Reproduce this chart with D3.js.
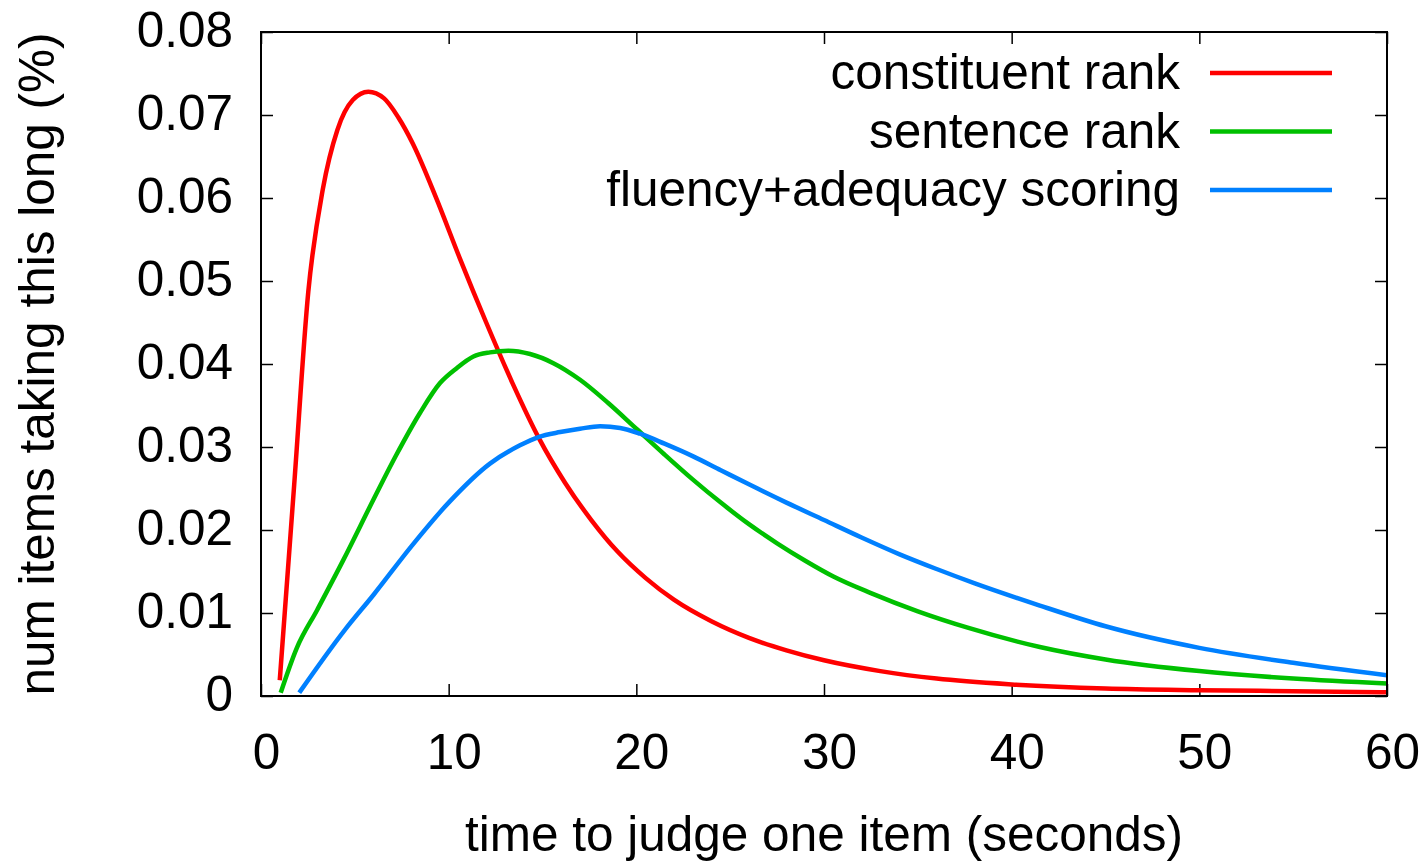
<!DOCTYPE html>
<html>
<head>
<meta charset="utf-8">
<script src="https://cdn.jsdelivr.net/npm/d3@7"></script>
<style>
  body { margin: 0; background: #fff; }
  svg text { font-family: "Liberation Sans", Arial, Helvetica, sans-serif; fill: #000; }
</style>
</head>
<body>
<svg id="chart" width="1424" height="864"></svg>
<script>
// ---- data ----
const seriesNames = ["constituent rank", "sentence rank", "fluency+adequacy scoring"];
const seriesColors = ["#ff0000", "#00c000", "#0080ff"];

const constituentX = [1.0, 1.77, 2.52, 3.29, 4.07, 4.89, 5.72, 6.56, 7.32, 8.08, 9.3, 10.6, 12.0, 13.4, 14.8, 16.2, 17.6, 19.0, 20.5, 22.0, 24.0, 26.0, 28.0, 30.0, 33.0, 36.0, 40.0, 45.0, 50.0, 55.0, 60.0];
const constituentY = [0.0019, 0.0255, 0.0487, 0.0610, 0.0682, 0.0718, 0.0728, 0.0720, 0.0697, 0.0666, 0.0602, 0.0527, 0.0450, 0.0377, 0.0311, 0.0257, 0.0212, 0.0174, 0.0142, 0.0116, 0.0090, 0.0070, 0.0055, 0.0043, 0.0030, 0.0021, 0.0014, 0.0009, 0.0007, 0.00058, 0.00045];

const sentenceX = [1.05, 1.90, 3.0, 4.39, 6.0, 7.2, 8.47, 9.54, 10.43, 11.32, 12.2, 13.18, 14.34, 15.58, 17.0, 18.5, 20.0, 21.5, 23.0, 24.5, 26.0, 27.5, 29.0, 30.5, 32.5, 35.0, 37.7, 41.5, 45.0, 50.0, 55.0, 60.0];
const sentenceY = [0.0004, 0.00575, 0.0104, 0.0164, 0.0237, 0.0290, 0.0341, 0.0377, 0.0395, 0.0409, 0.0414, 0.0416, 0.0412, 0.0401, 0.0381, 0.0353, 0.0322, 0.0291, 0.0261, 0.0233, 0.0207, 0.0184, 0.0163, 0.0144, 0.0124, 0.0102, 0.0082, 0.0059, 0.0044, 0.0030, 0.0021, 0.0015];

const fluencyX = [2.04, 4.48, 6.0, 8.0, 10.0, 12.2, 13.8, 14.78, 15.94, 17.0, 18.07, 19.14, 20.2, 21.5, 23.0, 24.5, 26.0, 28.0, 30.0, 32.0, 34.0, 36.0, 38.0, 41.5, 45.0, 50.0, 55.0, 60.0];
const fluencyY = [0.0004, 0.0080, 0.0122, 0.0180, 0.0233, 0.0280, 0.0302, 0.0312, 0.0318, 0.0322, 0.0325, 0.0323, 0.0316, 0.0304, 0.0289, 0.0272, 0.0255, 0.0233, 0.0212, 0.0191, 0.0171, 0.0153, 0.0136, 0.0109, 0.0084, 0.0058, 0.0040, 0.0025];

const xTicks = [0, 10, 20, 30, 40, 50, 60];
const yTicks = [0, 0.01, 0.02, 0.03, 0.04, 0.05, 0.06, 0.07, 0.08];
const xTitle = "time to judge one item (seconds)";
const yTitle = "num items taking this long (%)";

// ---- layout ----
const svg = d3.select("#chart");
const L = 261, R = 1387, T = 32, B = 696;
const x = d3.scaleLinear().domain([0, 60]).range([L, R]);
const y = d3.scaleLinear().domain([0, 0.08]).range([B, T]);
const FS = 49.5;

const series = [
  {name: seriesNames[0], color: seriesColors[0], xs: constituentX, ys: constituentY},
  {name: seriesNames[1], color: seriesColors[1], xs: sentenceX, ys: sentenceY},
  {name: seriesNames[2], color: seriesColors[2], xs: fluencyX, ys: fluencyY}
];

// ticks (inward, mirrored on all sides)
const tickLen = 12;
const bottomAxis = d3.axisBottom(x).tickValues(xTicks).tickSize(-tickLen).tickFormat(d3.format("d"));
const topAxis = d3.axisTop(x).tickValues(xTicks).tickSize(-tickLen).tickFormat("");
const leftAxis = d3.axisLeft(y).tickValues(yTicks).tickSize(-tickLen).tickFormat(d => d === 0 ? "0" : d3.format(".2f")(d));
const rightAxis = d3.axisRight(y).tickValues(yTicks).tickSize(-tickLen).tickFormat("");

function styleAxis(g) {
  g.select(".domain").remove();
  g.selectAll(".tick line").attr("stroke", "#000").attr("stroke-width", 1.5);
  g.selectAll(".tick text").attr("font-size", FS).attr("fill", "#000")
    .attr("font-family", "Liberation Sans, Arial, sans-serif");
}

const gb = svg.append("g").attr("transform", `translate(0,${B})`).call(bottomAxis).call(styleAxis);
gb.selectAll(".tick text").attr("y", 38).attr("dy", "0.71em").attr("dx", 5);
svg.append("g").attr("transform", `translate(0,${T})`).call(topAxis).call(styleAxis);
const gl = svg.append("g").attr("transform", `translate(${L},0)`).call(leftAxis).call(styleAxis);
gl.selectAll(".tick text").attr("x", -28).attr("dy", "0.3em");
svg.append("g").attr("transform", `translate(${R},0)`).call(rightAxis).call(styleAxis);

// curves
const line = d3.line().x(d => x(d[0])).y(d => y(d[1])).curve(d3.curveMonotoneX);
const plot = svg.append("g");
plot.append("clipPath").attr("id", "clip").append("rect")
  .attr("x", L).attr("y", T).attr("width", R - L).attr("height", B - T);
series.forEach(s => {
  const pts = s.xs.map((v, i) => [v, s.ys[i]]);
  plot.append("path").datum(pts)
    .attr("d", line)
    .attr("fill", "none")
    .attr("stroke", s.color)
    .attr("stroke-width", 4.5)
    .attr("stroke-linejoin", "miter")
    .attr("clip-path", "url(#clip)");
});

// border
svg.append("rect").attr("x", L).attr("y", T).attr("width", R - L).attr("height", B - T)
  .attr("fill", "none").attr("stroke", "#000").attr("stroke-width", 2);

// legend
const legY0 = 73, legDy = 58.5;
series.forEach((s, i) => {
  const yy = legY0 + i * legDy;
  svg.append("text").attr("x", 1180).attr("y", yy).attr("dy", "0.33em")
    .attr("text-anchor", "end").attr("font-size", FS).text(s.name);
  svg.append("line").attr("x1", 1210).attr("x2", 1332).attr("y1", yy).attr("y2", yy)
    .attr("stroke", s.color).attr("stroke-width", 4.5);
});

// axis titles
svg.append("text").attr("x", (L + R) / 2).attr("y", 851)
  .attr("text-anchor", "middle").attr("font-size", FS).text(xTitle);
svg.append("text").attr("transform", `translate(54,${(T + B) / 2}) rotate(-90)`)
  .attr("text-anchor", "middle").attr("font-size", FS).text(yTitle);
</script>
</body>
</html>
